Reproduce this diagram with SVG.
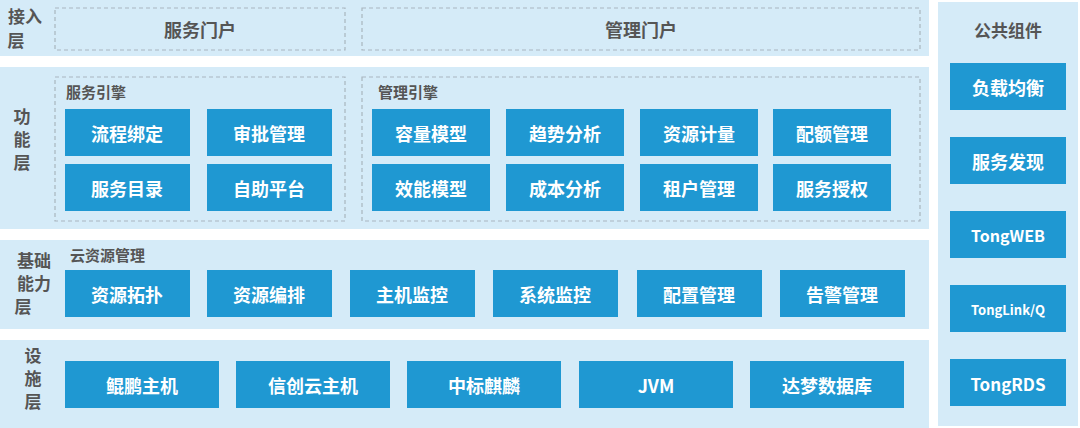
<svg xmlns="http://www.w3.org/2000/svg" width="1080" height="428" viewBox="0 0 1080 428">
<style>
.band{fill:#d5ebf8}
.dash{fill:none;stroke:#a9b6bf;stroke-width:1.2;stroke-dasharray:4 3}
.box{fill:#1f98d2}
.bt{font-family:"Noto Sans CJK SC","Noto Sans",sans-serif;font-weight:bold;font-size:18px;fill:#fff;text-anchor:middle;dominant-baseline:central}
.lt{font-family:"Noto Sans CJK SC",sans-serif;font-weight:bold;font-size:17px;fill:#555;text-anchor:middle}
.gt{font-family:"Noto Sans CJK SC",sans-serif;font-weight:bold;font-size:15px;fill:#555}
.pt{font-family:"Noto Sans CJK SC",sans-serif;font-weight:bold;font-size:18px;fill:#555;text-anchor:middle;dominant-baseline:central}
</style>
<rect width="1080" height="428" fill="#fff"/>
<g id="layer-access">
<rect class="band" x="0" y="0" width="929" height="56"/>
<text class="lt" x="25" y="23">接入</text><text class="lt" x="16" y="47">层</text>
<rect class="dash" x="55" y="8" width="290" height="42"/>
<text class="pt" x="200" y="29">服务门户</text>
<rect class="dash" x="362" y="8" width="558" height="42"/>
<text class="pt" x="641" y="29">管理门户</text>
</g>
<g id="layer-func">
<rect class="band" x="0" y="67" width="929" height="162"/>
<text class="lt" x="22" y="123">功</text><text class="lt" x="22" y="146">能</text><text class="lt" x="22" y="169">层</text>
<rect class="dash" x="55" y="77" width="290" height="144"/>
<text class="gt" x="66" y="98">服务引擎</text>
<rect class="dash" x="362" y="77" width="558" height="144"/>
<text class="gt" x="378" y="98">管理引擎</text>
</g>
<g id="n-lcbd"><rect class="box" x="65" y="109" width="125" height="47"/><text class="bt" x="127" y="133">流程绑定</text></g>
<g id="n-spgl"><rect class="box" x="207" y="109" width="125" height="47"/><text class="bt" x="269" y="133">审批管理</text></g>
<g id="n-fwml"><rect class="box" x="65" y="164" width="125" height="47"/><text class="bt" x="127" y="188">服务目录</text></g>
<g id="n-zzpt"><rect class="box" x="207" y="164" width="125" height="47"/><text class="bt" x="269" y="188">自助平台</text></g>
<g id="n-rlmx"><rect class="box" x="372" y="109" width="118" height="47"/><text class="bt" x="431" y="133">容量模型</text></g>
<g id="n-qsfx"><rect class="box" x="506" y="109" width="118" height="47"/><text class="bt" x="565" y="133">趋势分析</text></g>
<g id="n-zyjl"><rect class="box" x="640" y="109" width="118" height="47"/><text class="bt" x="699" y="133">资源计量</text></g>
<g id="n-pegl"><rect class="box" x="773" y="109" width="118" height="47"/><text class="bt" x="832" y="133">配额管理</text></g>
<g id="n-xnmx"><rect class="box" x="372" y="164" width="118" height="47"/><text class="bt" x="431" y="188">效能模型</text></g>
<g id="n-cbfx"><rect class="box" x="506" y="164" width="118" height="47"/><text class="bt" x="565" y="188">成本分析</text></g>
<g id="n-zhgl"><rect class="box" x="640" y="164" width="118" height="47"/><text class="bt" x="699" y="188">租户管理</text></g>
<g id="n-fwsq"><rect class="box" x="773" y="164" width="118" height="47"/><text class="bt" x="832" y="188">服务授权</text></g>
<g id="layer-base">
<rect class="band" x="0" y="240" width="929" height="89"/>
<text class="lt" x="34" y="267">基础</text><text class="lt" x="34" y="290">能力</text><text class="lt" x="23" y="313">层</text>
<text class="gt" x="70" y="261">云资源管理</text>
</g>
<g id="n-zytp"><rect class="box" x="65" y="270" width="125" height="47"/><text class="bt" x="127" y="294">资源拓扑</text></g>
<g id="n-zybp"><rect class="box" x="207" y="270" width="125" height="47"/><text class="bt" x="269" y="294">资源编排</text></g>
<g id="n-zjjk"><rect class="box" x="350" y="270" width="125" height="47"/><text class="bt" x="412" y="294">主机监控</text></g>
<g id="n-xtjk"><rect class="box" x="493" y="270" width="125" height="47"/><text class="bt" x="555" y="294">系统监控</text></g>
<g id="n-pzgl"><rect class="box" x="637" y="270" width="125" height="47"/><text class="bt" x="699" y="294">配置管理</text></g>
<g id="n-gjgl"><rect class="box" x="780" y="270" width="125" height="47"/><text class="bt" x="842" y="294">告警管理</text></g>
<g id="layer-infra">
<rect class="band" x="0" y="340" width="929" height="88"/>
<text class="lt" x="33" y="362">设</text><text class="lt" x="33" y="385">施</text><text class="lt" x="33" y="408">层</text>
</g>
<g id="n-kpzj"><rect class="box" x="65" y="361" width="154" height="47"/><text class="bt" x="142" y="385">鲲鹏主机</text></g>
<g id="n-xcyzj"><rect class="box" x="236" y="361" width="154" height="47"/><text class="bt" x="313" y="385">信创云主机</text></g>
<g id="n-zbql"><rect class="box" x="407" y="361" width="154" height="47"/><text class="bt" x="484" y="385">中标麒麟</text></g>
<g id="n-jvm"><rect class="box" x="579" y="361" width="154" height="47"/><text class="bt" x="656" y="385">JVM</text></g>
<g id="n-dmsjk"><rect class="box" x="750" y="361" width="154" height="47"/><text class="bt" x="827" y="385">达梦数据库</text></g>
<g id="panel-common">
<rect class="band" x="938" y="2" width="140" height="424"/>
<text class="lt" x="1008" y="37">公共组件</text>
</g>
<g id="n-fzjh"><rect class="box" x="950" y="63" width="116" height="47"/><text class="bt" x="1008" y="87">负载均衡</text></g>
<g id="n-fwfx"><rect class="box" x="950" y="137" width="116" height="47"/><text class="bt" x="1008" y="161">服务发现</text></g>
<g id="n-tw"><rect class="box" x="950" y="211" width="116" height="47"/><text class="bt" x="1008" y="235" style="font-size:16px">TongWEB</text></g>
<g id="n-tlq"><rect class="box" x="950" y="285" width="116" height="47"/><text class="bt" x="1008" y="309" style="font-size:13px">TongLink/Q</text></g>
<g id="n-trds"><rect class="box" x="950" y="359" width="116" height="47"/><text class="bt" x="1008" y="383" style="font-size:17px">TongRDS</text></g>
<g id="connectors"/>
</svg>
